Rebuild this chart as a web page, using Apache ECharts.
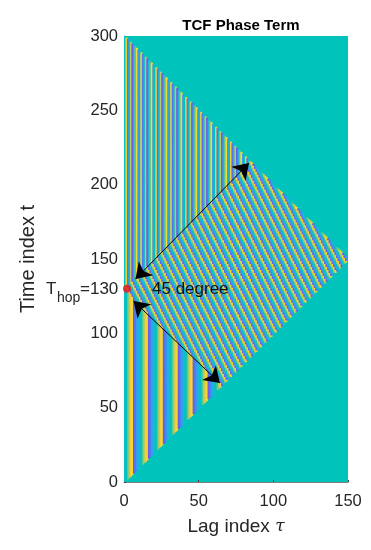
<!DOCTYPE html>
<html>
<head>
<meta charset="utf-8">
<title>TCF Phase Term</title>
<script src="https://cdn.jsdelivr.net/npm/echarts@6/dist/echarts.min.js"></script>
<style>
  html, body { margin: 0; padding: 0; background: #fff; }
  #main { width: 371px; height: 550px; }
</style>
</head>
<body>
<div id="main"></div>
<script>
// hop position read from the red dot
var hopTime = 130;
var maxLag = 150;
var maxTime = 300;

// lag values where the phase wraps (yellow -> purple), read from the stripes
var lowerWraps = [-3.5, 6.5, 16.5, 26.5, 36.5, 46.5, 56.5, 66.5, 76.5];
var upperWraps = [-1.1, 2.2, 5.5, 8.8, 12.2, 15.5, 18.8, 22.2, 25.5, 28.8, 32.2, 35.5, 38.8, 42.2,
  45.5, 48.8, 52.2, 55.5, 58.8, 62.2, 65.5, 68.8, 72.2, 75.5, 78.8, 82.2, 85.5, 88.8];
// diagonal stripes, stored as 2*lag + t where the phase wraps
var crossWraps = [126.5, 136.5, 146.5, 156.5, 166.5, 176.5, 186.5, 196.5, 206.5, 216.5, 226.5,
  236.5, 246.5, 256.5, 266.5, 276.5, 286.5, 296.5, 306.5, 316.5, 326.5, 336.5, 346.5, 356.5,
  366.5, 376.5, 386.5, 396.5, 406.5, 416.5, 426.5, 436.5, 446.5, 456.5];

var phaseColors = ['#6a5ee8', '#4a80f5', '#2fa8ee', '#12bcd0', '#00c4bb', '#70c888', '#f0c848', '#fbd52e', '#fde725'];
var backColor = '#00c4bb';

var xTicks = 50;
var yTicks = 50;

// red dot and the two arrows, [lag, t]
var hopPoint = [2, 130];
var arrowUp = [[7.7, 136.5], [83.7, 214.5]];
var arrowDown = [[6.4, 121.7], [64.2, 66.6]];

function wrapFraction(wraps, p) {
  for (var i = 0; i < wraps.length - 1; i++) {
    if (p >= wraps[i] && p < wraps[i + 1]) {
      return (p - wraps[i]) / (wraps[i + 1] - wraps[i]);
    }
  }
  return 0.5;
}

var cells = [];
for (var tau = 0; tau < maxLag; tau++) {
  for (var t = tau; t < maxTime - tau; t++) {
    var a = tau + 0.5, b = t + 0.5, f;
    if (b < hopTime - a) f = wrapFraction(lowerWraps, a);
    else if (b > hopTime + a) f = wrapFraction(upperWraps, a);
    else f = wrapFraction(crossWraps, 2 * a + b);
    cells.push([tau, t, f]);
  }
}

var chart = echarts.init(document.getElementById('main'));
var fontName = '"Liberation Sans", Arial, sans-serif';
var lineGray = '#857c7c';

chart.setOption({
  animation: false,
  backgroundColor: '#fff',
  title: {
    text: 'TCF Phase Term',
    left: 236, top: 13, textAlign: 'center',
    textStyle: { fontFamily: fontName, fontSize: 15, fontWeight: 'bold', color: '#000' }
  },
  grid: { left: 124, top: 36, width: 224, height: 446, backgroundColor: backColor, show: true, borderWidth: 0 },
  xAxis: {
    type: 'value', min: 0, max: maxLag, interval: xTicks,
    name: 'Lag index {t|τ}', nameLocation: 'middle', nameGap: 35,
    nameTextStyle: {
      fontFamily: fontName, fontSize: 19, color: '#262626',
      rich: { t: { fontFamily: '"DejaVu Serif", serif', fontStyle: 'italic', fontSize: 17, color: '#262626' } }
    },
    axisLine: { show: true, onZero: false, lineStyle: { color: lineGray, width: 1 } },
    axisTick: { show: true, inside: true, length: 2, lineStyle: { color: '#444' } },
    axisLabel: { fontFamily: fontName, fontSize: 16.5, color: '#262626', margin: 11 },
    splitLine: { show: false }
  },
  yAxis: {
    type: 'value', min: 0, max: maxTime, interval: yTicks,
    name: 'Time index t', nameLocation: 'middle', nameGap: 86, nameRotate: 90,
    nameTextStyle: { fontFamily: fontName, fontSize: 20, color: '#262626' },
    axisLine: { show: true, onZero: false, lineStyle: { color: lineGray, width: 1 } },
    axisTick: { show: true, inside: true, length: 2, lineStyle: { color: '#444' } },
    axisLabel: { fontFamily: fontName, fontSize: 16.5, color: '#262626', margin: 6 },
    splitLine: { show: false }
  },
  visualMap: {
    show: false, type: 'continuous', seriesIndex: 0, dimension: 2, min: 0, max: 1,
    inRange: { color: phaseColors }
  },
  series: [
    {
      type: 'custom',
      data: cells,
      encode: { x: 0, y: 1 },
      silent: true,
      clip: true,
      progressive: 0,
      renderItem: function (params, api) {
        var p = api.coord([api.value(0), api.value(1) + 1]);
        var s = api.size([1, 1]);
        return {
          type: 'rect',
          shape: { x: p[0], y: p[1], width: s[0] + 0.6, height: s[1] + 0.6 },
          style: { fill: api.visual('color') }
        };
      }
    },
    {
      type: 'scatter',
      data: [hopPoint],
      symbolSize: 8,
      itemStyle: { color: '#f50f0f' },
      silent: true,
      z: 5,
      markLine: {
        silent: true,
        symbol: ['arrow', 'arrow'],
        symbolSize: 15,
        label: { show: false },
        lineStyle: { color: '#000', width: 1, type: 'solid' },
        data: [
          [{ coord: arrowUp[0] }, { coord: arrowUp[1] }],
          [{ coord: arrowDown[0] }, { coord: arrowDown[1] }]
        ]
      }
    }
  ],
  graphic: [
    { type: 'text', z: 100, left: 46, top: 281, style: { text: 'T', fontFamily: fontName, fontSize: 17, fill: '#262626' } },
    { type: 'text', z: 100, left: 57, top: 291, style: { text: 'hop', fontFamily: fontName, fontSize: 14, fill: '#262626' } },
    { type: 'text', z: 100, left: 80, top: 281, style: { text: '=130', fontFamily: fontName, fontSize: 17, fill: '#262626' } },
    { type: 'text', z: 100, left: 152, top: 281, style: { text: '45 degree', fontFamily: fontName, fontSize: 17, fill: '#111' } }
  ]
});
window.addEventListener('resize', chart.resize);
</script>
</body>
</html>
